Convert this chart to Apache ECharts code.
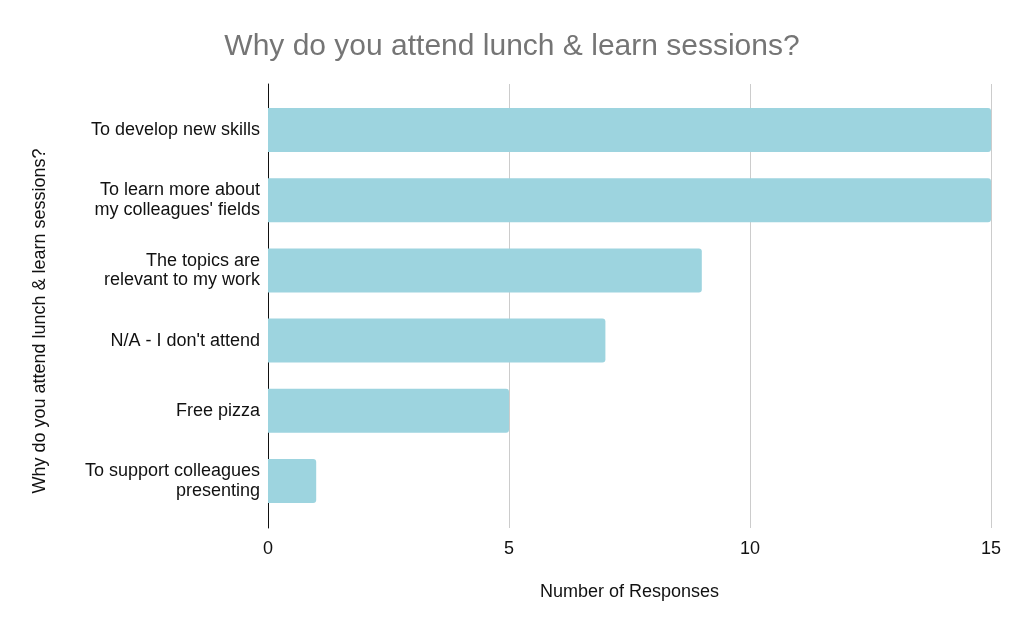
<!DOCTYPE html>
<html><head><meta charset="utf-8">
<script src="https://cdn.jsdelivr.net/npm/echarts@6/dist/echarts.min.js"></script>
<style>html,body{margin:0;padding:0;background:#fff}#c{width:1024px;height:632px}</style>
</head><body><div id="c"></div>
<script>
var categories = ["To develop new skills", "To learn more about\nmy colleagues' fields", "The topics are\nrelevant to my work", "N/A - I don't attend", "Free pizza", "To support colleagues\npresenting"];
var responses = [15, 15, 9, 7, 5, 1];
var xTicks = {min: 0, max: 15, interval: 5};
var FONT = "'Liberation Sans', Arial, sans-serif";
var chart = echarts.init(document.getElementById('c'));
chart.setOption({
  animation: false,
  backgroundColor: '#fff',
  title: {text: 'Why do you attend lunch & learn sessions?', left: 'center', top: 27,
    textStyle: {fontFamily: FONT, fontSize: 30, fontWeight: 'normal', color: '#757575'}},
  graphic: [{type: 'text', rotation: Math.PI/2, x: 40, y: 321,
    style: {text: 'Why do you attend lunch & learn sessions?', font: '18px ' + FONT, fill: '#111',
      align: 'center', verticalAlign: 'middle'}}],
  grid: [
    {left: 268, right: 33, top: 95, bottom: 116},
    {left: 268, right: 33, top: 84, bottom: 104}
  ],
  xAxis: [
    {gridIndex: 0, type: 'value', min: xTicks.min, max: xTicks.max, interval: xTicks.interval, show: false},
    {gridIndex: 1, type: 'value', min: xTicks.min, max: xTicks.max, interval: xTicks.interval,
      axisLine: {show: false}, axisTick: {show: false},
      splitLine: {lineStyle: {color: '#cccccc', width: 1}},
      axisLabel: {fontFamily: FONT, fontSize: 18, color: '#111', margin: 12},
      name: 'Number of Responses', nameLocation: 'middle', nameGap: 55,
      nameTextStyle: {fontFamily: FONT, fontSize: 18, color: '#111'}}
  ],
  yAxis: [
    {gridIndex: 0, type: 'category', data: categories, inverse: true,
      axisLine: {show: false}, axisTick: {show: false}, splitLine: {show: false},
      axisLabel: {fontFamily: FONT, fontSize: 18, color: '#111', margin: 8, lineHeight: 19.5, align: 'right'}},
    {gridIndex: 1, type: 'value', min: 0, max: 1, axisLabel: {show: false}, axisTick: {show: false},
      splitLine: {show: false}, axisLine: {show: true, lineStyle: {color: '#111', width: 1}}}
  ],
  series: [{type: 'bar', xAxisIndex: 0, yAxisIndex: 0, data: responses, barWidth: '62.6%',
    itemStyle: {color: '#9dd4df', borderRadius: [0, 3, 3, 0]}}]
});
</script></body></html>
